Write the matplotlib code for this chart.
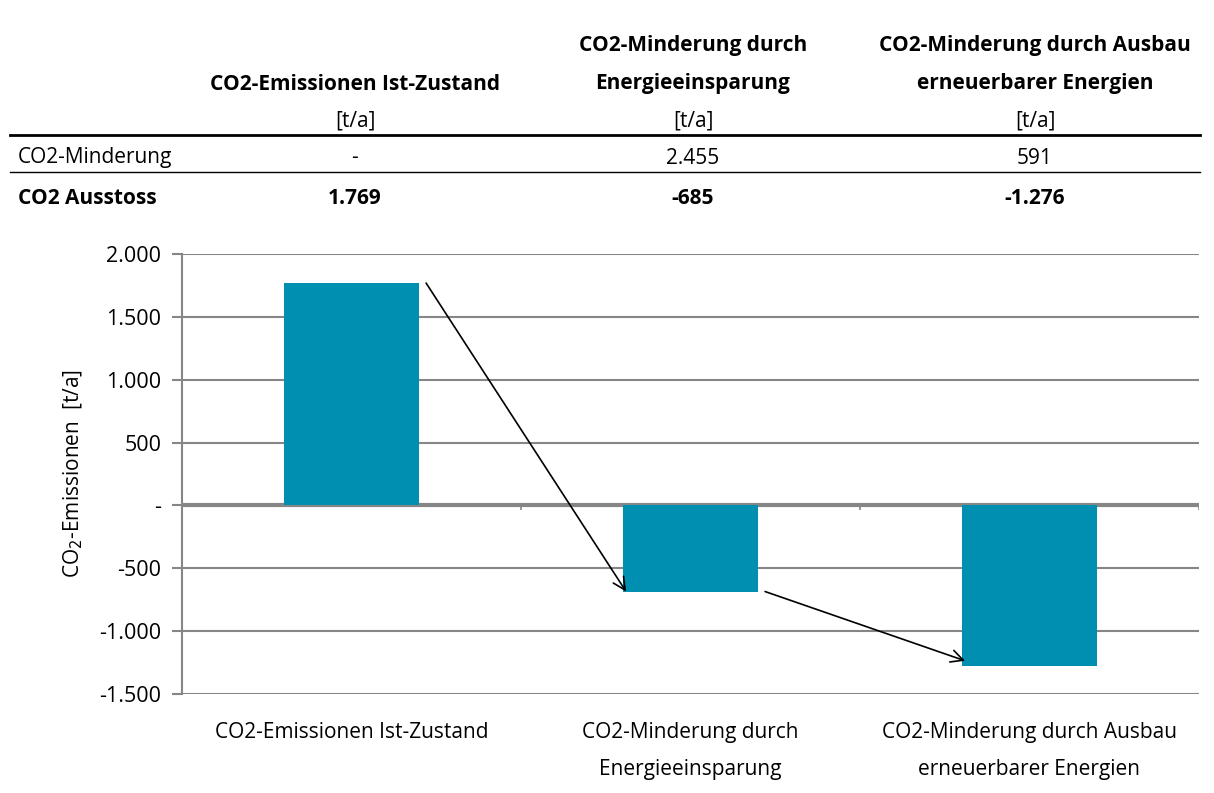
import matplotlib.pyplot as plt
from matplotlib.lines import Line2D
from matplotlib.ticker import FuncFormatter

plt.rcParams['font.family'] = ['Open Sans', 'DejaVu Sans']

# data
categories = ['CO2-Emissionen Ist-Zustand',
              'CO2-Minderung durch\nEnergieeinsparung',
              'CO2-Minderung durch Ausbau\nerneuerbarer Energien']
header_lines = [['', 'CO2-Emissionen Ist-Zustand'],
                ['CO2-Minderung durch', 'Energieeinsparung'],
                ['CO2-Minderung durch Ausbau', 'erneuerbarer Energien']]
unit = '[t/a]'
minderung = [None, 2455, 591]
ausstoss = [1769, -685, -1276]
yticks = [-1500, -1000, -500, 0, 500, 1000, 1500, 2000]

bar_color = '#008FB1'
grid_color = '#868686'
fs = 15


def fmt(v):
    if v is None or v == 0:
        return '-'
    return f'{v:,.0f}'.replace(',', '.')


fig = plt.figure(figsize=(12.14, 7.93), dpi=100)
ax = fig.add_axes([182 / 1214, 1 - 694 / 793, (1199 - 182) / 1214, (694 - 254) / 793])

# table above the chart
col_x = [355 / 1214, 693 / 1214, 1035 / 1214]
for i, cx in enumerate(col_x):
    fig.text(cx, 1 - 46 / 793, header_lines[i][0], ha='center', va='center',
             fontsize=fs, fontweight='bold')
    fig.text(cx, 1 - 84 / 793, header_lines[i][1], ha='center', va='center',
             fontsize=fs, fontweight='bold')
    fig.text(cx, 1 - 121 / 793, unit, ha='center', va='center', fontsize=fs)
    fig.text(cx, 1 - 158 / 793, fmt(minderung[i]), ha='center', va='center', fontsize=fs)
    fig.text(cx, 1 - 199 / 793, fmt(ausstoss[i]), ha='center', va='center',
             fontsize=fs, fontweight='bold')

fig.text(18 / 1214, 1 - 158 / 793, 'CO2-Minderung', ha='left', va='center', fontsize=fs)
fig.text(18 / 1214, 1 - 199 / 793, 'CO2 Ausstoss', ha='left', va='center',
         fontsize=fs, fontweight='bold')

fig.add_artist(Line2D([10 / 1214, 1200 / 1214], [1 - 135 / 793] * 2, color='black', lw=2))
fig.add_artist(Line2D([10 / 1214, 1200 / 1214], [1 - 172 / 793] * 2, color='black', lw=1))

# bars
xs = list(range(len(categories)))
ax.bar(xs, ausstoss, width=0.4, color=bar_color, zorder=3)

# arrows between bars
for i in range(len(ausstoss) - 1):
    end_off = 0 if i == 0 else 40
    ax.annotate('', xy=(i + 0.81, ausstoss[i + 1] + end_off),
                xytext=(i + 0.22, ausstoss[i]),
                arrowprops=dict(arrowstyle='->', color='black', lw=1.2,
                                mutation_scale=22, shrinkA=0, shrinkB=0),
                zorder=4)

ax.set_xlim(-0.5, 2.5)
ax.set_ylim(-1500, 2000)
ax.set_yticks(yticks)
ax.yaxis.set_major_formatter(FuncFormatter(lambda v, p: fmt(v)))
ax.yaxis.grid(True, color=grid_color, lw=1.5, zorder=1)
ax.axhline(0, color=grid_color, lw=3, zorder=2)
ax.vlines([0.5, 1.5, 2.5], -40, 0, color=grid_color, lw=1.2, zorder=2)

for s in ['top', 'right', 'bottom']:
    ax.spines[s].set_visible(False)
ax.spines['left'].set_color(grid_color)
ax.spines['left'].set_linewidth(1.5)

ax.tick_params(axis='y', colors=grid_color, labelcolor='black', labelsize=fs + 0.5,
               length=7, width=1.5, pad=8)
ax.set_xticks(xs)
ax.set_xticklabels(categories, fontsize=fs, linespacing=2.0, va='top')
ax.tick_params(axis='x', length=0, pad=20)

ax.set_ylabel('CO$_2$-Emissionen  [t/a]', fontsize=fs, labelpad=10)

fig.savefig('out.png', dpi=100)
